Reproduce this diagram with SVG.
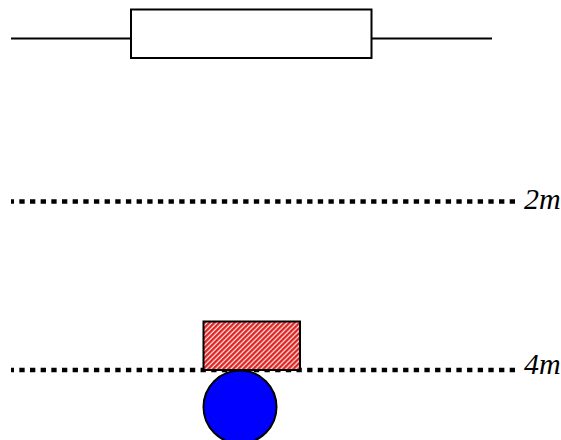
<svg xmlns="http://www.w3.org/2000/svg" width="561" height="440" viewBox="0 0 561 440">
<style>
.wire{fill:none;stroke:#000;stroke-width:2}
.dot{fill:none;stroke:#000;stroke-width:4.5;stroke-dasharray:5.33 5.33;stroke-dashoffset:2.33}
.lbl{font-family:"Liberation Serif",serif;font-style:italic;font-size:30px;fill:#000}
</style>
<defs>
<pattern id="hatch" width="3.54" height="3.54" patternUnits="userSpaceOnUse" patternTransform="rotate(45)">
<rect width="3.54" height="3.54" fill="#f6dcd8"/>
<rect width="2.2" height="3.54" fill="#e01c1c"/>
</pattern>
</defs>
<g id="connectors">
<path class="wire" d="M11 38.500H131"/>
<path class="wire" d="M371 38.500H492"/>
<path class="dot" d="M11 201.500H515.500"/>
<path class="dot" d="M11 370H515.500"/>
</g>
<g id="box"><rect x="131" y="9.500" width="240.500" height="48.500" fill="#fff" stroke="#000" stroke-width="2"/></g>
<g id="label-2m"><text class="lbl" x="524" y="209">2m</text></g>
<g id="label-4m"><text class="lbl" x="524" y="374">4m</text></g>
<g id="hatched-block"><rect x="203.500" y="321.500" width="96.500" height="48.500" fill="url(#hatch)" stroke="#000" stroke-width="2"/></g>
<g id="ball"><circle cx="240" cy="407" r="36.500" fill="#0000ff" stroke="#000" stroke-width="2"/></g>
</svg>
